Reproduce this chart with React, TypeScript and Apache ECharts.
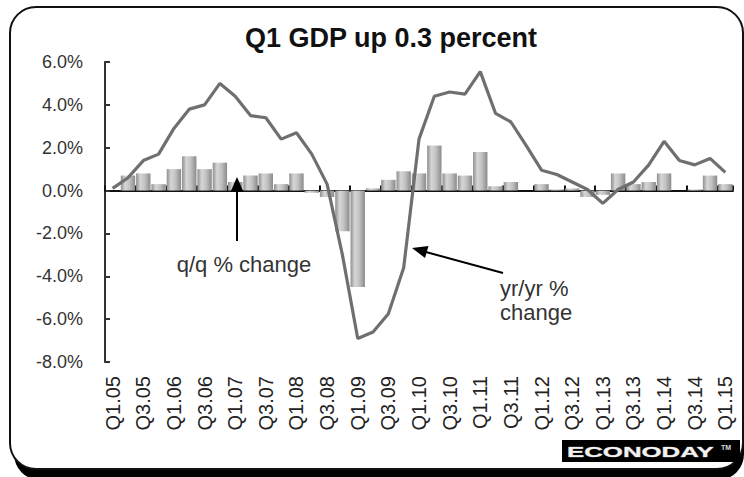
import React, { useEffect, useRef } from "react";
import * as echarts from "echarts";

const categories = [
  "Q1.05", "Q2.05", "Q3.05", "Q4.05",
  "Q1.06", "Q2.06", "Q3.06", "Q4.06",
  "Q1.07", "Q2.07", "Q3.07", "Q4.07",
  "Q1.08", "Q2.08", "Q3.08", "Q4.08",
  "Q1.09", "Q2.09", "Q3.09", "Q4.09",
  "Q1.10", "Q2.10", "Q3.10", "Q4.10",
  "Q1.11", "Q2.11", "Q3.11", "Q4.11",
  "Q1.12", "Q2.12", "Q3.12", "Q4.12",
  "Q1.13", "Q2.13", "Q3.13", "Q4.13",
  "Q1.14", "Q2.14", "Q3.14", "Q4.14",
  "Q1.15",
];

// q/q % change (bars)
const qqChange = [
  0, 0.7, 0.8, 0.3,
  1.0, 1.6, 1.0, 1.3,
  0.4, 0.7, 0.8, 0.3,
  0.8, -0.1, -0.3, -1.9,
  -4.5, 0.1, 0.5, 0.9,
  0.8, 2.1, 0.8, 0.7,
  1.8, 0.2, 0.4, 0,
  0.3, 0.05, 0.1, -0.3,
  -0.2, 0.8, 0.3, 0.4,
  0.8, 0, 0.05, 0.7,
  0.3,
];

// yr/yr % change (line)
const yyChange = [
  0.1, 0.6, 1.4, 1.7,
  2.9, 3.8, 4.0, 5.0,
  4.4, 3.5, 3.4, 2.4,
  2.7, 1.7, 0.3, -3.0,
  -6.9, -6.6, -5.75, -3.6,
  2.4, 4.4, 4.6, 4.5,
  5.55, 3.6, 3.2, 2.1,
  0.95, 0.75, 0.4, 0.05,
  -0.6, 0.05, 0.4, 1.2,
  2.3, 1.4, 1.2, 1.5,
  0.85,
];

const yMin = -8;
const yMax = 6;
const yStep = 2;

const titleText = "Q1 GDP up 0.3 percent";
const qqLabel = "q/q % change";
const yyLabel1 = "yr/yr %";
const yyLabel2 = "change";

const FONT = "Arial, 'Liberation Sans', Helvetica, sans-serif";

export default function App() {
  const ref = useRef<HTMLDivElement>(null);

  useEffect(() => {
    if (!ref.current) return;
    const chart = echarts.init(ref.current, null, { renderer: "svg" });

    const barGradient = new echarts.graphic.LinearGradient(0, 0, 1, 0, [
      { offset: 0, color: "#8e8e8e" },
      { offset: 0.3, color: "#d6d6d6" },
      { offset: 0.6, color: "#c2c2c2" },
      { offset: 1, color: "#8a8a8a" },
    ]);

    chart.setOption({
      animation: false,
      backgroundColor: "#ffffff",
      title: {
        text: titleText,
        left: 240,
        top: 19,
        textStyle: {
          fontFamily: FONT,
          fontWeight: "bold",
          fontSize: 27,
          color: "#111",
        },
      },
      grid: { left: 105, right: 11, top: 62, bottom: 115, containLabel: false },
      xAxis: [
        {
          type: "category",
          data: categories,
          position: "bottom",
          boundaryGap: true,
          axisLine: { show: false, onZero: false },
          axisTick: { show: false },
          axisLabel: {
            interval: 1,
            rotate: 90,
            margin: 14,
            fontFamily: FONT,
            fontSize: 20,
            color: "#222",
          },
          splitLine: { show: false },
        },
        {
          type: "category",
          data: categories,
          position: "top",
          boundaryGap: true,
          axisLine: { show: true, onZero: true, lineStyle: { color: "#111", width: 2 } },
          axisTick: { show: true, interval: 1, inside: false, length: 5, lineStyle: { color: "#111", width: 2 } },
          axisLabel: { show: false },
          splitLine: { show: false },
        },
      ],
      yAxis: {
        type: "value",
        min: yMin,
        max: yMax,
        interval: yStep,
        axisLine: { show: true, lineStyle: { color: "#333", width: 2 } },
        axisTick: { show: true, inside: true, length: 5, lineStyle: { color: "#333", width: 2 } },
        splitLine: { show: false },
        axisLabel: {
          margin: 22,
          fontFamily: FONT,
          fontSize: 18,
          color: "#333",
          formatter: (v: number) => v.toFixed(1) + "%",
        },
      },
      series: [
        {
          type: "bar",
          name: "q/q % change",
          data: qqChange,
          xAxisIndex: 0,
          barCategoryGap: "6%",
          itemStyle: { color: barGradient },
          z: 2,
        },
        {
          type: "line",
          name: "yr/yr % change",
          data: yyChange,
          xAxisIndex: 0,
          showSymbol: false,
          symbol: "none",
          lineStyle: { color: "#6f6f6f", width: 3.2 },
          z: 3,
        },
      ],
      graphic: [
        {
          type: "rect",
          z: -2,
          shape: { x: 14, y: 12, width: 730, height: 468, r: 26 },
          style: { fill: "#000" },
        },
        {
          type: "rect",
          z: -1,
          shape: { x: 10, y: 7, width: 733, height: 462, r: 26 },
          style: { fill: "#fff", stroke: "#111", lineWidth: 2 },
        },
        {
          type: "line",
          z: 10,
          shape: { x1: 237, y1: 241, x2: 237, y2: 190 },
          style: { stroke: "#000", lineWidth: 2 },
        },
        {
          type: "polygon",
          z: 10,
          shape: { points: [[237, 177], [230.5, 192], [243.5, 192]] },
          style: { fill: "#000" },
        },
        {
          type: "line",
          z: 10,
          shape: { x1: 503, y1: 273, x2: 424, y2: 251.5 },
          style: { stroke: "#000", lineWidth: 2 },
        },
        {
          type: "polygon",
          z: 10,
          shape: { points: [[412, 248], [425, 258], [428.5, 246]] },
          style: { fill: "#000" },
        },
        {
          type: "text",
          z: 10,
          x: 244,
          y: 264,
          style: {
            text: qqLabel,
            font: `22px ${FONT}`,
            fill: "#333",
            textAlign: "center",
            textVerticalAlign: "middle",
          },
        },
        {
          type: "text",
          z: 10,
          x: 500,
          y: 288,
          style: {
            text: yyLabel1,
            font: `22px ${FONT}`,
            fill: "#333",
            textAlign: "left",
            textVerticalAlign: "middle",
          },
        },
        {
          type: "text",
          z: 10,
          x: 500,
          y: 312,
          style: {
            text: yyLabel2,
            font: `22px ${FONT}`,
            fill: "#333",
            textAlign: "left",
            textVerticalAlign: "middle",
          },
        },
        {
          type: "rect",
          z: 10,
          shape: { x: 562, y: 440, width: 178, height: 22 },
          style: { fill: "#000" },
        },
        {
          type: "text",
          z: 11,
          x: 567,
          y: 451.5,
          scaleX: 1.72,
          style: {
            text: "ECONODAY",
            font: `bold 15px ${FONT}`,
            fill: "#f2f2f2",
            stroke: "#888",
            lineWidth: 0.6,
            textAlign: "left",
            textVerticalAlign: "middle",
          },
        },
        {
          type: "text",
          z: 11,
          x: 721,
          y: 447,
          style: {
            text: "TM",
            font: `bold 7px ${FONT}`,
            fill: "#ddd",
            textAlign: "left",
            textVerticalAlign: "middle",
          },
        },
      ],
    });

    return () => {
      chart.dispose();
    };
  }, []);

  return (
    <div
      ref={ref}
      style={{ position: "fixed", left: 0, top: 0, width: 744, height: 477 }}
    />
  );
}
